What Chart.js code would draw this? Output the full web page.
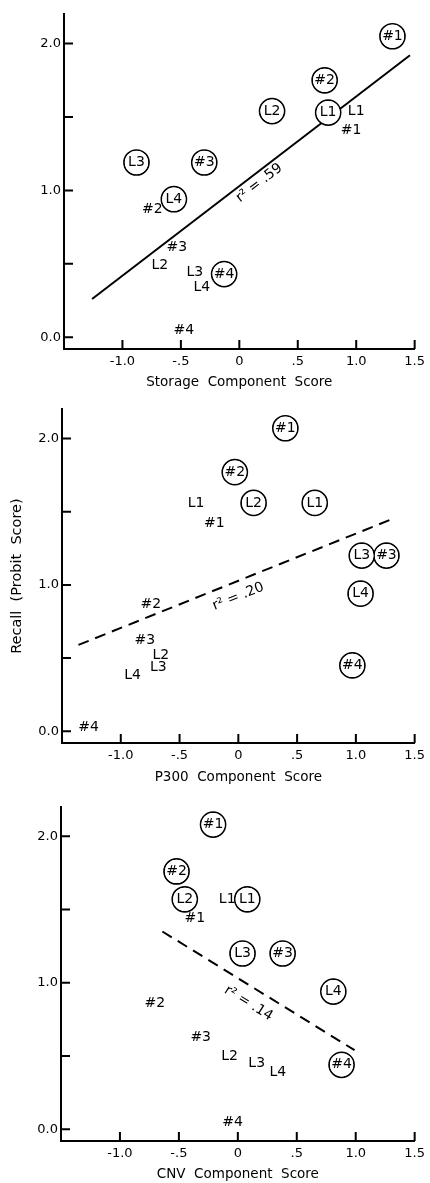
<!DOCTYPE html>
<html>
<head>
<meta charset="utf-8">
<script src="https://cdn.jsdelivr.net/npm/chart.js@4.4.1/dist/chart.umd.min.js"></script>
<style>
  body { margin: 0; background: #fff; }
  canvas { display: block; }
</style>
</head>
<body>
<canvas id="storageChart" width="430" height="395"></canvas>
<canvas id="p300Chart" width="430" height="395"></canvas>
<canvas id="cnvChart" width="430" height="393"></canvas>
<script>
const names = ["#1", "#2", "#3", "#4", "L1", "L2", "L3", "L4"];
const xTicks = [-1.0, -0.5, 0, 0.5, 1.0, 1.5];
const xTickLabels = ["-1.0", "-.5", "0", ".5", "1.0", "1.5"];
const yTicks = [0, 0.5, 1.0, 1.5, 2.0];
const yTickLabels = ["0.0", "", "1.0", "", "2.0"];

// storage component
const storageCircledX = [1.31, 0.73, -0.30, -0.13, 0.76, 0.28, -0.88, -0.56];
const storageCircledY = [2.05, 1.75, 1.19, 0.43, 1.53, 1.54, 1.19, 0.94];
const storagePlainX = [0.91, -0.79, -0.58, -0.52, 1.00, -0.68, -0.38, -0.32];
const storagePlainY = [1.41, 0.87, 0.61, 0.05, 1.54, 0.49, 0.44, 0.34];
const storageFitX = [-1.26, 1.46];
const storageFitY = [0.26, 1.92];

// P300 component
const p300CircledX = [0.40, -0.03, 1.26, 0.97, 0.65, 0.13, 1.05, 1.04];
const p300CircledY = [2.07, 1.77, 1.20, 0.45, 1.56, 1.56, 1.20, 0.94];
const p300PlainX = [-0.25, -0.79, -0.84, -1.32, -0.36, -0.66, -0.68, -0.90];
const p300PlainY = [1.42, 0.87, 0.62, 0.03, 1.56, 0.52, 0.44, 0.38];
const p300FitX = [-1.36, 1.31];
const p300FitY = [0.59, 1.45];

// CNV component
const cnvCircledX = [-0.21, -0.52, 0.38, 0.88, 0.08, -0.45, 0.04, 0.81];
const cnvCircledY = [2.08, 1.76, 1.20, 0.44, 1.57, 1.57, 1.20, 0.94];
const cnvPlainX = [-0.41, -0.75, -0.36, -0.09, -0.09, -0.07, 0.16, 0.34];
const cnvPlainY = [1.44, 0.86, 0.63, 0.05, 1.57, 0.50, 0.45, 0.39];
const cnvFitX = [-0.64, 0.99];
const cnvFitY = [1.35, 0.54];

const FONT = "'DejaVu Sans', sans-serif";

function pts(xs, ys) {
  return xs.map((x, i) => ({ x: x, y: ys[i] }));
}

// draws the short ticks pointing into the plot
const inwardTicks = {
  id: "inwardTicks",
  afterDatasetsDraw(chart) {
    const { ctx, chartArea } = chart;
    const xs = chart.scales.x, ys = chart.scales.y;
    ctx.save();
    ctx.strokeStyle = "#000";
    ctx.lineWidth = 2;
    ctx.beginPath();
    xTicks.forEach(v => {
      const px = xs.getPixelForValue(v);
      ctx.moveTo(px, chartArea.bottom);
      ctx.lineTo(px, chartArea.bottom - 9);
    });
    yTicks.forEach(v => {
      const py = ys.getPixelForValue(v);
      ctx.moveTo(chartArea.left, py);
      ctx.lineTo(chartArea.left + 9, py);
    });
    ctx.stroke();
    ctx.restore();
  }
};

// names next to / inside the points, and the r² note on the fit line
const pointLabels = {
  id: "pointLabels",
  afterDatasetsDraw(chart) {
    const ctx = chart.ctx;
    ctx.save();
    ctx.fillStyle = "#000";
    ctx.font = "14px " + FONT;
    ctx.textBaseline = "middle";
    chart.data.datasets.forEach((ds, i) => {
      if (!ds.names) return;
      chart.getDatasetMeta(i).data.forEach((pt, j) => {
        const name = ds.names[j];
        if (ds.plain && name[0] === "#") {
          ctx.textAlign = "left";
          ctx.fillText(name, pt.x - 5, pt.y);
        } else {
          ctx.textAlign = "center";
          ctx.fillText(name, pt.x, pt.y);
        }
      });
    });
    const note = chart.options.plugins.pointLabels;
    const fitIdx = chart.data.datasets.findIndex(d => d.isFit);
    const fp = chart.getDatasetMeta(fitIdx).data;
    const ang = Math.atan2(fp[1].y - fp[0].y, fp[1].x - fp[0].x);
    const nx = chart.scales.x.getPixelForValue(note.at[0]);
    const ny = chart.scales.y.getPixelForValue(note.at[1]);
    ctx.translate(nx, ny);
    ctx.rotate(ang);
    ctx.textAlign = "center";
    ctx.font = "14px " + FONT;
    ctx.fillText(note.text, 0, 0);
    ctx.restore();
  }
};

function makeChart(id, cfg) {
  const lay = cfg.layout;
  return new Chart(document.getElementById(id), {
    type: "scatter",
    data: {
      datasets: [
        {
          // white fill on top so overlapping rings merge
          data: pts(cfg.circledX, cfg.circledY),
          pointRadius: 11.6,
          pointBorderWidth: 0,
          pointBackgroundColor: "#fff",
          names: names,
        },
        {
          data: pts(cfg.circledX, cfg.circledY),
          pointRadius: 12.5,
          pointBorderWidth: 1.7,
          pointBorderColor: "#000",
          pointBackgroundColor: "#fff",
        },
        {
          data: pts(cfg.plainX, cfg.plainY),
          pointRadius: 0,
          names: names,
          plain: true,
        },
        {
          data: pts(cfg.fitX, cfg.fitY),
          showLine: true,
          pointRadius: 0,
          borderColor: "#000",
          borderWidth: 2,
          borderDash: cfg.dashed ? [11, 7] : [],
          isFit: true,
        },
      ],
    },
    options: {
      responsive: false,
      animation: false,
      events: [],
      layout: { padding: { top: lay.top, right: lay.right, left: 0, bottom: 0 } },
      plugins: {
        legend: { display: false },
        tooltip: { enabled: false },
        pointLabels: { text: cfg.r2, at: cfg.r2At },
      },
      scales: {
        x: {
          type: "linear",
          min: -1.5,
          max: 1.5,
          afterBuildTicks: s => { s.ticks = xTicks.map(v => ({ value: v })); },
          afterFit: s => { s.height = lay.axisH; },
          grid: { drawOnChartArea: false, drawTicks: false },
          border: { color: "#000", width: 2 },
          ticks: {
            color: "#000",
            font: { family: FONT, size: 13 },
            padding: 5,
            maxRotation: 0,
            autoSkip: false,
            callback: v => xTickLabels[xTicks.indexOf(v)],
          },
          title: {
            display: true,
            text: cfg.xTitle,
            color: "#000",
            font: { family: FONT, size: 13.5 },
            padding: { top: 0, bottom: lay.titlePad },
          },
        },
        y: {
          type: "linear",
          min: -0.08,
          max: 2.2,
          afterBuildTicks: s => { s.ticks = yTicks.map(v => ({ value: v })); },
          afterFit: s => { s.width = lay.left; },
          grid: { drawOnChartArea: false, drawTicks: false },
          border: { color: "#000", width: 2 },
          ticks: {
            color: "#000",
            font: { family: FONT, size: 13 },
            padding: 3,
            autoSkip: false,
            callback: v => yTickLabels[yTicks.indexOf(v)],
          },
          title: {
            display: !!cfg.yTitle,
            text: cfg.yTitle || "",
            color: "#000",
            font: { family: FONT, size: 14.5 },
            padding: { top: 9, bottom: 0 },
          },
        },
      },
    },
    plugins: [inwardTicks, pointLabels],
  });
}

makeChart("storageChart", {
  circledX: storageCircledX, circledY: storageCircledY,
  plainX: storagePlainX, plainY: storagePlainY,
  fitX: storageFitX, fitY: storageFitY,
  dashed: false,
  r2: "r² = .59", r2At: [0.17, 1.05],
  xTitle: "Storage  Component  Score",
  layout: { top: 10, right: 11, left: 64, axisH: 46, titlePad: 4 },
});

makeChart("p300Chart", {
  circledX: p300CircledX, circledY: p300CircledY,
  plainX: p300PlainX, plainY: p300PlainY,
  fitX: p300FitX, fitY: p300FitY,
  dashed: true,
  r2: "r² = .20", r2At: [0.0, 0.92],
  xTitle: "P300  Component  Score",
  yTitle: "Recall  (Probit  Score)",
  layout: { top: 13, right: 13, left: 62, axisH: 47, titlePad: 4 },
});

makeChart("cnvChart", {
  circledX: cnvCircledX, circledY: cnvCircledY,
  plainX: cnvPlainX, plainY: cnvPlainY,
  fitX: cnvFitX, fitY: cnvFitY,
  dashed: true,
  r2: "r² = .14", r2At: [0.09, 0.86],
  xTitle: "CNV  Component  Score",
  layout: { top: 17, right: 15, left: 61, axisH: 42, titlePad: 0 },
});
</script>
</body>
</html>
